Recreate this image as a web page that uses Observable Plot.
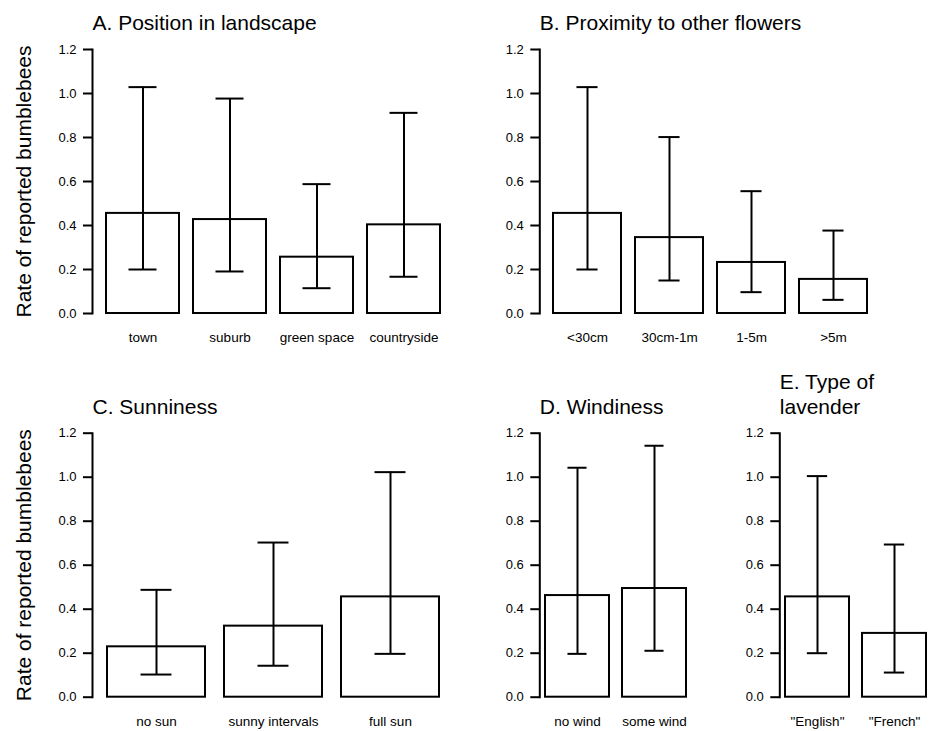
<!DOCTYPE html>
<html><head><meta charset="utf-8">
<script src="https://cdn.jsdelivr.net/npm/d3@7"></script>
<script src="https://cdn.jsdelivr.net/npm/@observablehq/plot@0.6"></script>
<style>
body{margin:0;background:#fff;}
#fig{position:relative;width:933px;height:731px;background:#fff;}
#fig > .panel{position:absolute;}
</style></head><body><div id="fig"></div>
<script>
// ---- data ----
const yTicks = [0, 0.2, 0.4, 0.6, 0.8, 1.0, 1.2];
const yLabelText = "Rate of reported bumblebees";

const landscapeCats = ["town", "suburb", "green space", "countryside"];
const landscapeRate = [0.455, 0.427, 0.256, 0.403];
const landscapeLo   = [0.200, 0.191, 0.115, 0.167];
const landscapeHi   = [1.029, 0.977, 0.588, 0.912];

const proximityCats = ["<30cm", "30cm-1m", "1-5m", ">5m"];
const proximityRate = [0.455, 0.345, 0.232, 0.155];
const proximityLo   = [0.200, 0.150, 0.097, 0.062];
const proximityHi   = [1.029, 0.802, 0.556, 0.377];

const sunCats = ["no sun", "sunny intervals", "full sun"];
const sunRate = [0.229, 0.323, 0.456];
const sunLo   = [0.103, 0.143, 0.197];
const sunHi   = [0.488, 0.703, 1.023];

const windCats = ["no wind", "some wind"];
const windRate = [0.462, 0.494];
const windLo   = [0.197, 0.211];
const windHi   = [1.043, 1.143];

const lavenderCats = ["\"English\"", "\"French\""];
const lavenderRate = [0.456, 0.290];
const lavenderLo   = [0.200, 0.112];
const lavenderHi   = [1.005, 0.694];

// ---- layout ----
const FONT = "'Liberation Sans', Arial, Helvetica, sans-serif";
const panels = [
  {title: "A. Position in landscape", cats: landscapeCats, rate: landscapeRate, lo: landscapeLo, hi: landscapeHi,
   left: 0, top: 0, width: 466, height: 360, axisX: 92, y12: 49, y0: 313, bars: [106, 439.5], cap: 42, titleDy: -19.5, yLabel: true},
  {title: "B. Proximity to other flowers", cats: proximityCats, rate: proximityRate, lo: proximityLo, hi: proximityHi,
   left: 466, top: 0, width: 467, height: 360, axisX: 73.3, y12: 49, y0: 313, bars: [85.7, 403.5], cap: 36, titleDy: -19.5},
  {title: "C. Sunniness", cats: sunCats, rate: sunRate, lo: sunLo, hi: sunHi,
   left: 0, top: 360, width: 466, height: 371, axisX: 92, y12: 72.7, y0: 336.7, bars: [105.7, 439.3], cap: 50.7, titleDy: -19.4, yLabel: true},
  {title: "D. Windiness", cats: windCats, rate: windRate, lo: windLo, hi: windHi,
   left: 466, top: 360, width: 240, height: 371, axisX: 73.3, y12: 72.7, y0: 336.7, bars: [78.7, 221], cap: 32.7, titleDy: -19.4},
  {title: "E. Type of\nlavender", cats: lavenderCats, rate: lavenderRate, lo: lavenderLo, hi: lavenderHi,
   left: 706, top: 360, width: 227, height: 371, axisX: 73.3, y12: 72.7, y0: 336.7, bars: [78.3, 220.7], cap: 34, titleDy: -19.4}
];

const fig = document.getElementById("fig");
for (const p of panels) {
  const data = p.cats.map((c, i) => ({cat: c, rate: p.rate[i], lo: p.lo[i], hi: p.hi[i]}));
  const n = p.cats.length;
  const bw = (p.bars[1] - p.bars[0]) / (n - 1 / 6);
  const inset = Math.max(0, (bw - p.cap) / 2);
  const marks = [
    Plot.frame({anchor: "left", strokeWidth: 2}),
    Plot.axisY({ticks: yTicks, tickFormat: d3.format(".1f"), tickSize: 9, tickPadding: 7, fontSize: 13, strokeWidth: 2, label: null}),
    Plot.axisX({tickSize: 0, tickPadding: 19, fontSize: 13.5, label: null}),
    Plot.barY(data, {x: "cat", y: "rate", fill: "white", stroke: "black", strokeWidth: 2}),
    Plot.ruleX(data, {x: "cat", y1: "lo", y2: "hi", stroke: "black", strokeWidth: 2}),
    Plot.tickY(data, {x: "cat", y: "hi", stroke: "black", strokeWidth: 2, insetLeft: inset, insetRight: inset}),
    Plot.tickY(data, {x: "cat", y: "lo", stroke: "black", strokeWidth: 2, insetLeft: inset, insetRight: inset}),
    Plot.text([p.title], {text: d => d, frameAnchor: "top-left", textAnchor: "start", lineAnchor: "bottom", dy: p.titleDy, fontSize: 21, lineHeight: 1.19, fill: "black"})
  ];
  if (p.yLabel) {
    marks.push(Plot.axisY({ticks: [], label: yLabelText, labelAnchor: "center", labelOffset: 76, labelArrow: "none", fontSize: 21}));
  }
  const chart = Plot.plot({
    width: p.width, height: p.height,
    marginLeft: p.axisX, marginRight: 4, marginTop: p.y12, marginBottom: p.height - p.y0,
    x: {type: "band", domain: p.cats, range: p.bars, paddingInner: 1 / 6, paddingOuter: 0, align: 0.5},
    y: {domain: [0, 1.2]},
    style: {fontFamily: FONT, background: "white", color: "black", overflow: "visible"},
    marks
  });
  const wrap = document.createElement("div");
  wrap.className = "panel";
  wrap.style.left = p.left + "px";
  wrap.style.top = p.top + "px";
  wrap.appendChild(chart);
  fig.appendChild(wrap);
}
</script></body></html>
